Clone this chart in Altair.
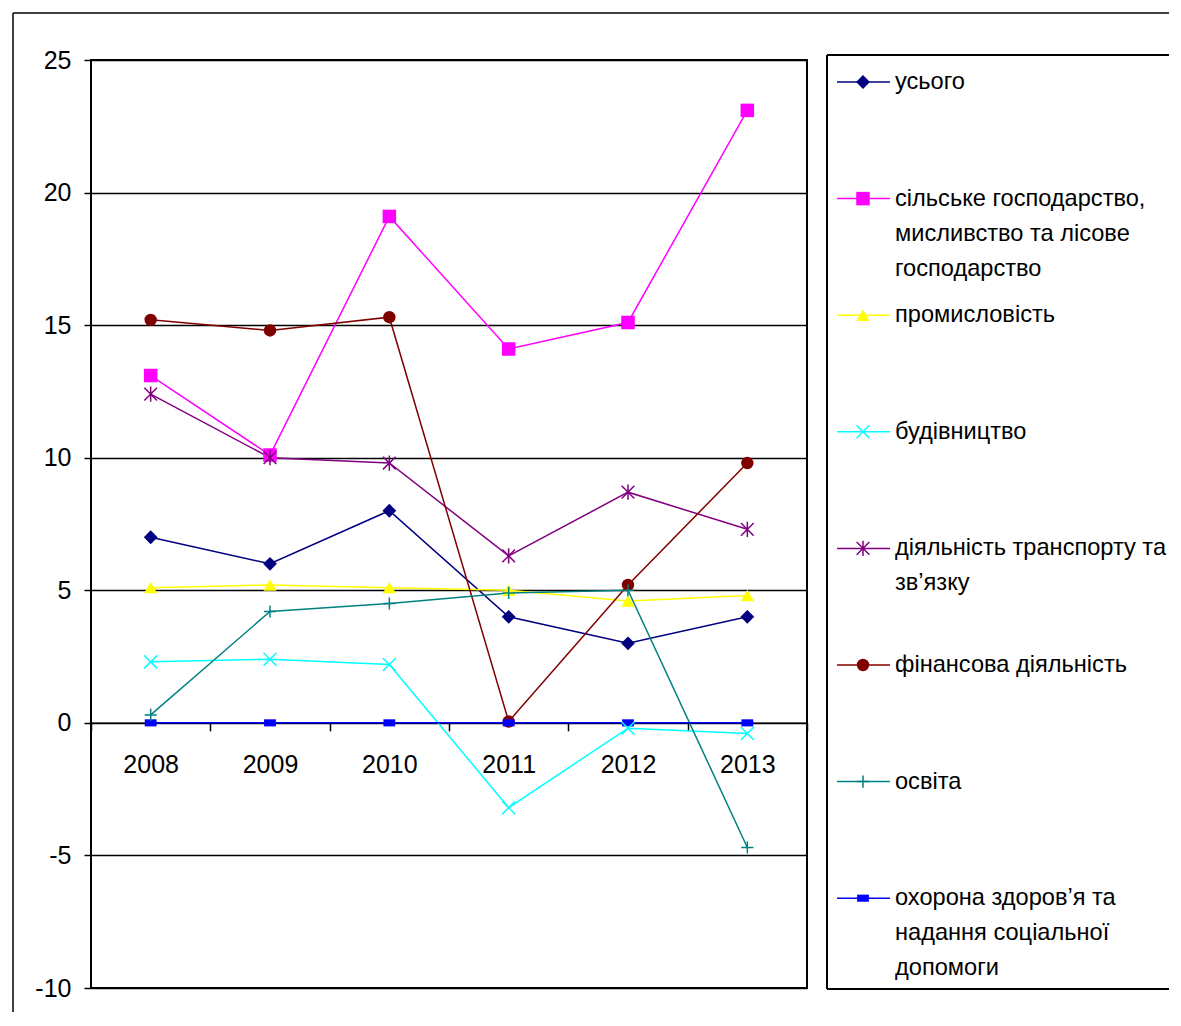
import altair as alt
import pandas as pd

# ---------------- data ----------------
years = ["2008", "2009", "2010", "2011", "2012", "2013"]

series = [
    "усього",
    "сільське господарство, мисливство та лісове господарство",
    "промисловість",
    "будівництво",
    "діяльність транспорту та зв’язку",
    "фінансова діяльність",
    "освіта",
    "охорона здоров’я та надання соціальної допомоги",
]

legend_text_lines = [
    ["усього"],
    ["сільське господарство,", "мисливство та лісове", "господарство"],
    ["промисловість"],
    ["будівництво"],
    ["діяльність транспорту та", "зв’язку"],
    ["фінансова діяльність"],
    ["освіта"],
    ["охорона здоров’я та", "надання соціальної", "допомоги"],
]

v_total = [7.0, 6.0, 8.0, 4.0, 3.0, 4.0]
v_agri = [13.1, 10.1, 19.1, 14.1, 15.1, 23.1]
v_industry = [5.1, 5.2, 5.1, 5.0, 4.6, 4.8]
v_construction = [2.3, 2.4, 2.2, -3.2, -0.2, -0.4]
v_transport = [12.4, 10.0, 9.8, 6.3, 8.7, 7.3]
v_finance = [15.2, 14.8, 15.3, 0.05, 5.2, 9.8]
v_education = [0.3, 4.2, 4.5, 4.9, 5.0, -4.7]
v_health = [0.0, 0.0, 0.0, 0.0, 0.0, 0.0]

values = [v_total, v_agri, v_industry, v_construction, v_transport,
          v_finance, v_education, v_health]

y_ticks = [-10, -5, 0, 5, 10, 15, 20, 25]

# ---------------- styles ----------------
colors = ["#000080", "#FF00FF", "#FFFF00", "#00FFFF", "#800080",
          "#800000", "#008080", "#0000FF"]
shapes = [
    "diamond",
    "square",
    "triangle-up",
    "M-1,-1L1,1M-1,1L1,-1",
    "M-1,-1L1,1M-1,1L1,-1M0,-1.2L0,1.2",
    "circle",
    "M-1,0L1,0M0,-1L0,1",
    "M-1,-0.6L1,-0.6L1,0.6L-1,0.6Z",
]
sizes = [190, 140, 170, 110, 110, 165, 110, 64]
filled_series = [series[i] for i in (0, 1, 2, 5, 7)]
stroked_series = [series[i] for i in (3, 4, 6)]

FONT = "Liberation Sans"
FS = 25
LEG_FS = 23.6
W, H = 716, 928
GAP = 20
YMIN, YMAX = -10, 25
LEG_W = 342
LEG_STEP = 116.6
LEG_FIRST = 22
LINE_H = 35
TEXT_X = 68

rows = []
for s, vals in zip(series, values):
    for yr, v in zip(years, vals):
        rows.append({"series": s, "year": yr, "value": v})
df = pd.DataFrame(rows)

leg_rows = pd.DataFrame({"series": series, "row": list(range(len(series)))})
tl = []
for i, (s, lines) in enumerate(zip(series, legend_text_lines)):
    for k, t in enumerate(lines):
        tl.append({"series": s, "row": i, "k": k, "text": t})
leg_text = pd.DataFrame(tl)

color_scale = alt.Scale(domain=series, range=colors)
shape_scale = alt.Scale(domain=series, range=shapes)
size_scale = alt.Scale(domain=series, range=sizes)

color_enc = alt.Color("series:N", scale=color_scale, legend=None)
shape_enc = alt.Shape("series:N", scale=shape_scale, legend=None)
size_enc = alt.Size("series:N", scale=size_scale, legend=None)

zero_offset = -(H * (0 - YMIN) / (YMAX - YMIN))

x_enc = alt.X(
    "year:O",
    sort=years,
    bandPosition=0.5,
    scale=alt.Scale(type="band", paddingInner=0, paddingOuter=0),
    axis=alt.Axis(
        title=None, orient="bottom", offset=zero_offset, tickBand="extent",
        grid=False, domain=True, domainColor="black", domainWidth=1.5,
        ticks=True, tickSize=8, tickColor="black", tickWidth=1.5,
        labelFont=FONT, labelFontSize=FS, labelColor="black",
        labelAngle=0, labelPadding=22,
    ),
)
y_enc = alt.Y(
    "value:Q",
    scale=alt.Scale(domain=[YMIN, YMAX], nice=False, zero=False),
    axis=alt.Axis(
        title=None, values=y_ticks, grid=True, gridColor="black",
        gridWidth=1.5, gridOpacity=1, domain=False, ticks=True, tickSize=7,
        tickColor="black", tickWidth=1.5, labelFont=FONT, labelFontSize=FS,
        labelColor="black", labelPadding=13,
        labelExpr="'' + datum.value",
    ),
)

one = pd.DataFrame({"f": [0]})

# outer chart frame (left and top edges; the rest lies outside the window)
frame_top = alt.Chart(one).mark_rule(color="black", strokeWidth=1.5).encode(
    x=alt.value(-78), x2=alt.value(W + GAP + LEG_W), y=alt.value(-47)
)
frame_left = alt.Chart(one).mark_rule(color="black", strokeWidth=1.5).encode(
    x=alt.value(-78), y=alt.value(-47), y2=alt.value(952)
)

lines = alt.Chart(df).mark_line(strokeWidth=1.5).encode(
    x=x_enc, y=y_enc, color=color_enc
)

pts_filled = alt.Chart(df).transform_filter(
    alt.FieldOneOfPredicate(field="series", oneOf=filled_series)
).mark_point(filled=True, opacity=1).encode(
    x=x_enc, y=y_enc, color=color_enc, shape=shape_enc, size=size_enc
)

pts_stroked = alt.Chart(df).transform_filter(
    alt.FieldOneOfPredicate(field="series", oneOf=stroked_series)
).mark_point(filled=False, opacity=1, strokeWidth=1.5).encode(
    x=x_enc, y=y_enc, color=color_enc, shape=shape_enc, size=size_enc
)

main = alt.layer(frame_top, frame_left, lines, pts_filled, pts_stroked).properties(
    width=W, height=H,
    view=alt.ViewBackground(stroke="black", strokeWidth=2),
)

# ---------------- legend panel ----------------
leg_y = alt.Y(
    "row:Q",
    scale=alt.Scale(domain=[-LEG_FIRST / LEG_STEP, (H - LEG_FIRST) / LEG_STEP],
                    reverse=True, nice=False, zero=False),
    axis=None,
)

box_top = alt.Chart(one).mark_rule(color="black", strokeWidth=2).encode(
    x=alt.value(0), x2=alt.value(LEG_W), y=alt.value(-5)
)
box_bottom = alt.Chart(one).mark_rule(color="black", strokeWidth=2).encode(
    x=alt.value(0), x2=alt.value(LEG_W), y=alt.value(929)
)
box_left = alt.Chart(one).mark_rule(color="black", strokeWidth=2).encode(
    x=alt.value(0), y=alt.value(-5), y2=alt.value(929)
)

leg_line = alt.Chart(leg_rows).mark_rule(strokeWidth=1.5).encode(
    x=alt.value(10), x2=alt.value(63), y=leg_y, color=color_enc
)
leg_pf = alt.Chart(leg_rows).transform_filter(
    alt.FieldOneOfPredicate(field="series", oneOf=filled_series)
).mark_point(filled=True, opacity=1).encode(
    x=alt.value(36), y=leg_y, color=color_enc, shape=shape_enc, size=size_enc
)
leg_ps = alt.Chart(leg_rows).transform_filter(
    alt.FieldOneOfPredicate(field="series", oneOf=stroked_series)
).mark_point(filled=False, opacity=1, strokeWidth=1.5).encode(
    x=alt.value(36), y=leg_y, color=color_enc, shape=shape_enc, size=size_enc
)
leg_texts = []
for k in range(3):
    leg_texts.append(
        alt.Chart(leg_text).transform_filter(alt.datum.k == k).mark_text(
            align="left", baseline="middle", dy=LINE_H * k,
            limit=LEG_W - TEXT_X, ellipsis=" ",
            font=FONT, fontSize=LEG_FS, color="black",
        ).encode(x=alt.value(TEXT_X), y=leg_y, text="text:N")
    )

legend = alt.layer(box_top, box_bottom, box_left, leg_line, leg_pf, leg_ps,
                   *leg_texts).properties(
    width=LEG_W, height=H,
    view=alt.ViewBackground(stroke=None),
)

chart = alt.hconcat(main, legend, spacing=GAP, bounds="flush").properties(
    padding={"left": 3, "top": 3, "right": 0, "bottom": 0},
    background="white",
).configure(font=FONT)

chart.save("out.html", embed_options={"renderer": "svg", "actions": False})
